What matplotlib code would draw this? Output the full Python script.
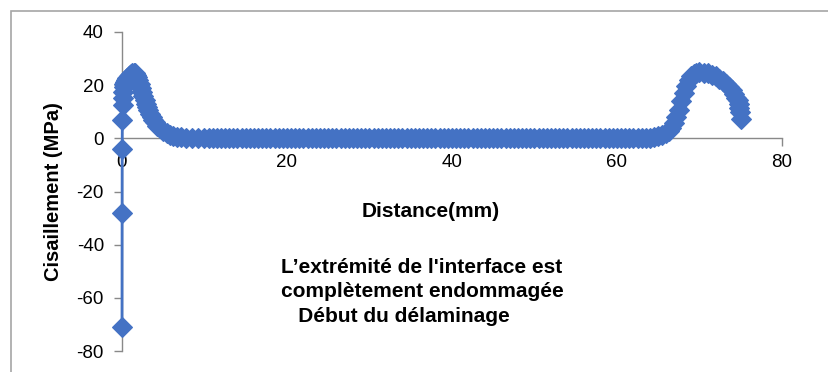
import matplotlib
matplotlib.use('Agg')
import matplotlib.pyplot as plt
from matplotlib.patches import Rectangle

plt.rcParams['font.family'] = ['Liberation Sans', 'DejaVu Sans']
plt.rcParams['axes.unicode_minus'] = False

blue = '#4472C4'
grey = '#898989'

# shear stress along the interface, left end (damaged edge)
x_left = [0.0, 0.01, 0.02, 0.04, 0.07, 0.10, 0.14, 0.20, 0.28, 0.38, 0.50, 0.65,
          0.80, 0.95, 1.10, 1.25, 1.40, 1.55, 1.70, 1.85, 2.00, 2.15, 2.30, 2.45,
          2.60, 2.75, 2.90, 3.05, 3.20, 3.40, 3.60, 3.80, 4.00, 4.30, 4.60, 5.00,
          5.40, 5.80, 6.20, 6.70, 7.20, 7.80, 8.50, 9.20, 10.0]
tau_left = [-71.0, -28.0, -4.0, 6.8, 12.4, 15.1, 17.4, 19.3, 20.4, 21.2, 22.0, 22.7,
            23.3, 23.8, 24.2, 24.4, 24.5, 24.4, 24.0, 23.2, 22.0, 20.6, 19.0, 17.4,
            15.9, 14.5, 13.1, 11.8, 10.6, 9.2, 8.0, 6.9, 6.0, 4.8, 3.8, 2.8,
            2.0, 1.4, 1.0, 0.6, 0.4, 0.2, 0.1, 0.05, 0.0]

# middle of the interface, no shear
x_mid = [10.5, 11.0, 11.5, 12.0, 12.5, 13.0, 13.5, 14.0, 14.5, 15.0, 15.5, 16.0,
         16.5, 17.0, 17.5, 18.0, 18.5, 19.0, 19.5, 20.0, 20.5, 21.0, 21.5, 22.0,
         22.5, 23.0, 23.5, 24.0, 24.5, 25.0, 25.5, 26.0, 26.5, 27.0, 27.5, 28.0,
         28.5, 29.0, 29.5, 30.0, 30.5, 31.0, 31.5, 32.0, 32.5, 33.0, 33.5, 34.0,
         34.5, 35.0, 35.5, 36.0, 36.5, 37.0, 37.5, 38.0, 38.5, 39.0, 39.5, 40.0,
         40.5, 41.0, 41.5, 42.0, 42.5, 43.0, 43.5, 44.0, 44.5, 45.0, 45.5, 46.0,
         46.5, 47.0, 47.5, 48.0, 48.5, 49.0, 49.5, 50.0, 50.5, 51.0, 51.5, 52.0,
         52.5, 53.0, 53.5, 54.0, 54.5, 55.0, 55.5, 56.0, 56.5, 57.0, 57.5, 58.0,
         58.5, 59.0, 59.5, 60.0, 60.5, 61.0, 61.5, 62.0, 62.5, 63.0, 63.5]
tau_mid = [0.0, 0.0, 0.0, 0.0, 0.0, 0.0, 0.0, 0.0, 0.0, 0.0, 0.0, 0.0,
           0.0, 0.0, 0.0, 0.0, 0.0, 0.0, 0.0, 0.0, 0.0, 0.0, 0.0, 0.0,
           0.0, 0.0, 0.0, 0.0, 0.0, 0.0, 0.0, 0.0, 0.0, 0.0, 0.0, 0.0,
           0.0, 0.0, 0.0, 0.0, 0.0, 0.0, 0.0, 0.0, 0.0, 0.0, 0.0, 0.0,
           0.0, 0.0, 0.0, 0.0, 0.0, 0.0, 0.0, 0.0, 0.0, 0.0, 0.0, 0.0,
           0.0, 0.0, 0.0, 0.0, 0.0, 0.0, 0.0, 0.0, 0.0, 0.0, 0.0, 0.0,
           0.0, 0.0, 0.0, 0.0, 0.0, 0.0, 0.0, 0.0, 0.0, 0.0, 0.0, 0.0,
           0.0, 0.0, 0.0, 0.0, 0.0, 0.0, 0.0, 0.0, 0.0, 0.0, 0.0, 0.0,
           0.0, 0.0, 0.0, 0.0, 0.0, 0.05, 0.05, 0.1, 0.1, 0.15, 0.2]

# right end
x_right = [64.0, 64.5, 65.0, 65.5, 66.0, 66.3, 66.6, 66.9, 67.2, 67.5, 67.8, 68.1,
           68.4, 68.7, 69.0, 69.3, 69.6, 70.0, 70.5, 71.0, 71.5, 72.0, 72.4, 72.8,
           73.2, 73.6, 73.9, 74.2, 74.45, 74.65, 74.75, 74.82, 74.9, 75.0]
tau_right = [0.3, 0.5, 0.8, 1.2, 2.0, 2.8, 4.0, 5.8, 8.0, 10.8, 14.0, 17.0,
             19.8, 22.0, 23.5, 24.3, 24.7, 24.8, 24.7, 24.5, 24.0, 23.3, 22.5, 21.6,
             20.6, 19.4, 18.2, 16.8, 15.3, 14.4, 13.0, 11.5, 10.0, 7.3]

x = x_left + x_mid + x_right
tau = tau_left + tau_mid + tau_right

xticks = [0, 20, 40, 60, 80]
yticks = [-80, -60, -40, -20, 0, 20, 40]

W, H = 829, 372
fig = plt.figure(figsize=(W / 100, H / 100), dpi=100)
ax = fig.add_axes([122 / W, 21 / H, 660 / W, 319 / H])

ax.plot(x, tau, color=blue, lw=2.0, marker='D', ms=10.5, mec=blue, mew=0.8,
        clip_on=False, zorder=3)

ax.set_xlim(0, 80)
ax.set_ylim(-80, 40)
ax.set_xticks(xticks)
ax.set_yticks(yticks)

ax.spines['top'].set_visible(False)
ax.spines['right'].set_visible(False)
ax.spines['bottom'].set_position(('data', 0))
for s in ['left', 'bottom']:
    ax.spines[s].set_color(grey)
    ax.spines[s].set_linewidth(1.0)
ax.tick_params(axis='both', color=grey, length=6, width=1.0, labelsize=13.5,
               labelcolor='black', direction='out')
ax.tick_params(axis='y', pad=7)
ax.tick_params(axis='x', pad=5.5)

ax.set_ylabel('Cisaillement (MPa)', fontsize=14.5, fontweight='bold', labelpad=10)
fig.text(431 / W, 1 - 211 / H, 'Distance(mm)', fontsize=15, fontweight='bold',
         ha='center', va='center')

fig.text(281 / W, 1 - 258 / H,
         "L’extrémité de l'interface est\ncomplètement endommagée\n   Début du délaminage",
         fontsize=15, fontweight='bold', ha='left', va='top', linespacing=1.36)

# chart area frame
fig.patches.append(Rectangle((11 / W, -0.1), 1.1, 1 - 11 / H + 0.1,
                             transform=fig.transFigure, fill=False,
                             edgecolor='#A6A6A6', lw=1.2))

fig.savefig('out.png', dpi=100)
